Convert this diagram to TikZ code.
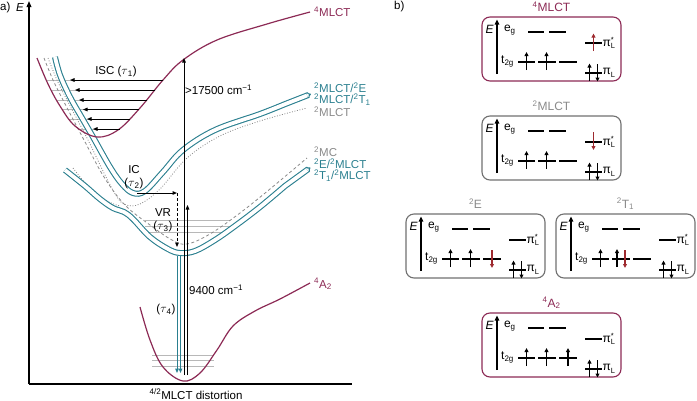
\documentclass[tikz,border=0pt]{standalone}
\usepackage{fontspec}
\setmainfont{Liberation Sans}
\usetikzlibrary{arrows.meta}
\definecolor{mlct}{HTML}{8C2A55}
\definecolor{tl}{HTML}{2A7F8F}
\definecolor{grt}{HTML}{8A8A8A}
\definecolor{boxgr}{HTML}{707070}
\definecolor{redarr}{HTML}{9E2A2F}
\newcommand\tealend[3]{\begin{scope}[shift={(#1,#2)},rotate=#3]
 \draw[tl,line width=1.1pt,line join=round] (0,-2.45) -- (1.3,-2.45) -- (1.9,-1.1) -- (3.6,0) -- (1.9,1.1) -- (1.3,2.45) -- (0,2.45);
 \end{scope}}
\newcommand\pistar{π\rlap{\raisebox{0.6ex}{\fontsize{7.5}{7.5}\selectfont*}}\raisebox{-0.45ex}{\fontsize{7.5}{7.5}\selectfont L}}
\newcommand\piL{π\raisebox{-0.45ex}{\fontsize{7.5}{7.5}\selectfont L}}
\newcommand\boxbase[2]{%
 \draw[line width=1.1pt,#2,rounded corners=8pt] (0,0) rectangle (139,64);
 \draw[axb] (15,57) -- (15,2.5);
 \node[font=\fontsize{12}{12}\selectfont\itshape] (#1E) at (7.5,12) {E};
 \node[anchor=west,font=\fontsize{12}{12}\selectfont] (#1eg) at (18.5,13) {e\textsubscript{g}};
 \node[anchor=west,font=\fontsize{12}{12}\selectfont,inner sep=0.5pt] (#1t) at (18.5,44.5) {t\textsubscript{2g}};
 \draw[lev] (46,15) -- (62,15); \draw[lev] (67,15) -- (84,15);
 \draw[lev] (36,45) -- (53,45); \draw[lev] (56,45) -- (74,45); \draw[lev] (77,45) -- (95,45);
 \draw[lev] (103,26) -- (120,26); \draw[lev] (103,56) -- (120,56);
 \node[anchor=west,inner sep=0pt,font=\fontsize{12}{12}\selectfont] (#1ps) at (120.5,26) {\pistar};
 \node[anchor=west,inner sep=0pt,font=\fontsize{12}{12}\selectfont] (#1pl) at (120.5,56) {\piL};
 \draw[el] (107.5,64) -- (107.5,46.5); \draw[el] (115.5,47) -- (115.5,64.5);
}
\begin{document}
\begin{tikzpicture}[x=1pt,y=-1pt,font=\fontsize{11.5}{13}\selectfont,
 tealpair/.style={draw=tl,line width=1.1pt,double=white,double distance=3.8pt,line join=round},
 purp/.style={draw=mlct,line width=1.2pt},
 dott/.style={draw=grt,line width=0.8pt,dash pattern=on 0.9pt off 1.7pt},
 dsh/.style={draw=grt,line width=0.8pt,dash pattern=on 3pt off 2.5pt},
 vib/.style={draw=black!28,line width=0.7pt},
 arr/.style={draw=black,line width=1pt,-{Triangle[length=4.5pt,width=3.6pt]}},
 tarr/.style={draw=tl,line width=1pt,-{Triangle[length=4.5pt,width=3.6pt]}},
 axb/.style={draw=black,line width=1.3pt,-{Triangle[length=5pt,width=4.5pt]}},
 lev/.style={draw=black,line width=1.2pt},
 el/.style={draw=black,line width=1.1pt,-{Triangle[length=4pt,width=3.8pt]}},
 rel/.style={draw=redarr,line width=1.1pt,-{Triangle[length=4pt,width=3.8pt]}},
]
\useasboundingbox (0,0) rectangle (697,400);
% ---------- panel a ----------
\begin{scope}
 \clip plot[smooth,tension=0.6] coordinates {(37,58) (48,84) (60,106) (75,126) (97,137) (118,130) (140,108) (163,80) (183,60) (217,40) (267,24) (310,12)} -- cycle;
 \foreach \yy in {80,90,100,109.5,119,129} \draw[vib] (30,\yy) -- (200,\yy);
\end{scope}
\foreach \yy in {220,226,232} \draw[vib] (145,\yy) -- (230,\yy);
\foreach \yy in {355,360,366} \draw[vib] (152,\yy) -- (214,\yy);
% diabatic curves
\draw[dott] plot[smooth,tension=0.6] coordinates {(48,58) (57,80) (67,100) (88,140) (105,175) (117,197) (126,205) (140,204) (160,189) (187,158) (220,136) (260,121) (307,108)};
\draw[dott] plot[smooth,tension=0.6] coordinates {(73,168) (88,186) (105,200) (120,206)};
\draw[dsh] plot[smooth,tension=0.6] coordinates {(44,58) (53,80) (63,100) (84,140) (104,177) (125,205) (150,225) (172,240) (187,244) (210,234) (240,213) (270,189) (307,158)};
% teal adiabatic pairs
\draw[tealpair] plot[smooth,tension=0.6] coordinates {(55,57) (60,75) (70,97) (82,118) (93,137) (110,167) (122,184) (133,193) (145,191) (163,172) (183,150) (215,130) (260,114) (284,104.5)} -- (307,95.5);
\tealend{307}{95.5}{21}
\draw[tealpair] plot[smooth,tension=0.6] coordinates {(65,170) (85,186) (100,199) (113,208) (124,212) (133,219) (150,237) (168,249) (180,253) (195,251) (215,240) (235,226) (260,207) (285,186)} -- (307,170);
\tealend{307}{170}{36}
% purple curves
\draw[purp] plot[smooth,tension=0.6] coordinates {(37,58) (48,84) (60,106) (75,126) (97,137) (118,130) (140,108) (163,80) (183,60) (217,40) (267,24) (310,12)};
\draw[purp] plot[smooth,tension=0.6] coordinates {(140,307) (150,340) (163,367) (183,381) (200,373) (217,350) (233,326) (255,311) (280,299) (310,283)};
% axes
\coordinate (O) at (29,384);
\coordinate (Ytop) at (29,1);
\coordinate (Xend) at (352,384);
\draw[line width=1.4pt,-{Triangle[length=6pt,width=4.6pt]}] (O) -- (Ytop);
\draw[line width=1.4pt] (O) -- (Xend);
% ISC arrows
\foreach \yy/\xa/\xb in {80/163/70,90/155/75,100/147/79,109.5/139/83,119/130/87,129/120/93}
 \draw[arr] (\xa,\yy) -- (\xb,\yy);
% IC and VR
\coordinate (ic1) at (137,193);
\coordinate (ic2) at (177,193);
\coordinate (vr2) at (177,247);
\draw[arr] (ic1) -- (ic2);
\draw[arr,dash pattern=on 3pt off 2pt] (ic2) -- (vr2);
% emission tau4
\draw[tarr] (177,256) -- (177,373);
\draw[tarr] (180.5,256) -- (180.5,373);
% absorption arrows
\draw[arr] (184,375) -- (184,58);
\draw[arr] (187.5,375) -- (187.5,205);
% labels panel a
\node[anchor=west,inner sep=0pt] (la) at (0,8) {a)};
\node[anchor=west,inner sep=0pt,font=\fontsize{11.5}{13}\selectfont\itshape] (lE) at (16,8) {E};
\node[anchor=west,inner sep=0pt,text=mlct] (l4mlct) at (314,12) {\textsuperscript{4}MLCT};
\node[anchor=west,inner sep=0pt,text=tl] (lu1) at (314,88) {\textsuperscript{2}MLCT/\textsuperscript{2}E};
\node[anchor=west,inner sep=0pt,text=tl] (lu2) at (314,99.5) {\textsuperscript{2}MLCT/\textsuperscript{2}T\textsubscript{1}};
\node[anchor=west,inner sep=0pt,text=grt] (lu3) at (314,111.5) {\textsuperscript{2}MLCT};
\node[anchor=west,inner sep=0pt,text=grt] (ll1) at (314,152) {\textsuperscript{2}MC};
\node[anchor=west,inner sep=0pt,text=tl] (ll2) at (314,163.5) {\textsuperscript{2}E/\textsuperscript{2}MLCT};
\node[anchor=west,inner sep=0pt,text=tl] (ll3) at (314,175.5) {\textsuperscript{2}T\textsubscript{1}/\textsuperscript{2}MLCT};
\node[anchor=west,inner sep=0pt,text=mlct] (l4a2) at (314,284) {\textsuperscript{4}A\textsubscript{2}};
\node[inner sep=0pt] (lisc) at (116,72) {ISC ($\tau$\textsubscript{1})};
\node[inner sep=0pt] (lic) at (134,170) {IC};
\node[inner sep=0pt] (lt2) at (134,183.5) {($\tau$\textsubscript{2})};
\node[inner sep=0pt] (lvr) at (163,213) {VR};
\node[inner sep=0pt] (lt3) at (163,226.5) {($\tau$\textsubscript{3})};
\node[inner sep=0pt] (lt4) at (166,310) {($\tau$\textsubscript{4})};
\node[anchor=west,inner sep=0pt] (l175) at (185,90) {>17500 cm\textsuperscript{−1}};
\node[anchor=west,inner sep=0pt] (l94) at (189,290) {9400 cm\textsuperscript{−1}};
\node[inner sep=0pt] (lx) at (196,394) {\textsuperscript{4/2}MLCT distortion};
% ---------- panel b ----------
\node[anchor=west,inner sep=0pt] (lb) at (394,7) {b)};
\begin{scope}[shift={(482,17)}]
 \boxbase{a}{mlct}
 \draw[el] (44.5,53) -- (44.5,35); \draw[el] (64.5,53) -- (64.5,35);
 \draw[rel] (111.5,34) -- (111.5,16.5);
\end{scope}
\node[text=mlct,font=\fontsize{12}{13}\selectfont] (t1) at (551.5,7) {\textsuperscript{4}MLCT};
\begin{scope}[shift={(482,116)}]
 \boxbase{b}{boxgr}
 \draw[el] (44.5,53) -- (44.5,35); \draw[el] (64.5,53) -- (64.5,35);
 \draw[rel] (111.5,16) -- (111.5,34);
\end{scope}
\node[text=grt,font=\fontsize{12}{13}\selectfont] (t2) at (551.5,106) {\textsuperscript{2}MLCT};
\begin{scope}[shift={(406,214)}]
 \boxbase{c}{boxgr}
 \draw[el] (44.5,53) -- (44.5,35); \draw[el] (64.5,53) -- (64.5,35);
 \draw[rel] (86,36) -- (86,54);
\end{scope}
\node[text=grt,font=\fontsize{12}{13}\selectfont] (t3) at (475.5,204) {\textsuperscript{2}E};
\begin{scope}[shift={(556,214)}]
 \boxbase{d}{boxgr}
 \draw[el] (44.5,53) -- (44.5,35); \draw[el] (61,53) -- (61,35);
 \draw[rel] (69,36) -- (69,54);
\end{scope}
\node[text=grt,font=\fontsize{12}{13}\selectfont] (t4) at (625.5,204) {\textsuperscript{2}T\textsubscript{1}};
\begin{scope}[shift={(482,313)}]
 \boxbase{e}{mlct}
 \draw[el] (44.5,53) -- (44.5,35); \draw[el] (64.5,53) -- (64.5,35); \draw[el] (86,53) -- (86,35);
\end{scope}
\node[text=mlct,font=\fontsize{12}{13}\selectfont] (t5) at (551.5,303) {\textsuperscript{4}A\textsubscript{2}};
\end{tikzpicture}
\end{document}
